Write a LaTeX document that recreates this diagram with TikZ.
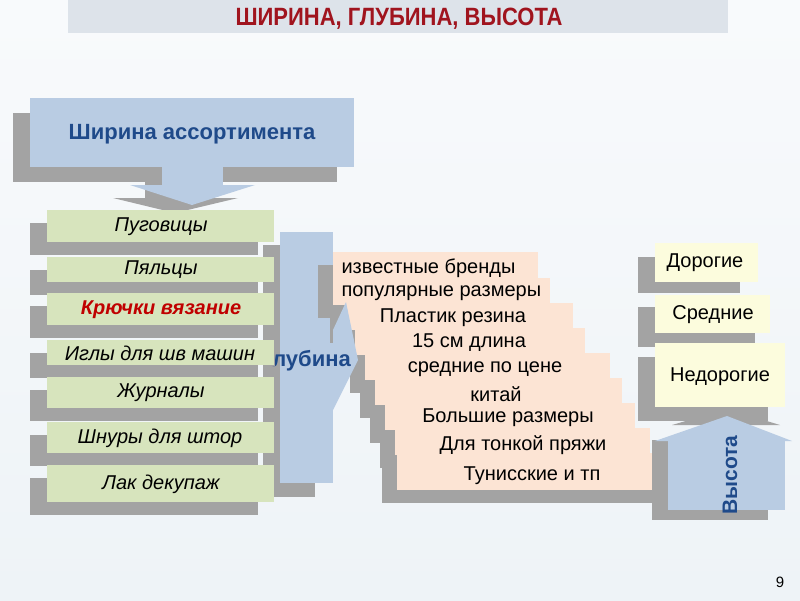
\documentclass[tikz,border=0pt]{standalone}
\usepackage{fontspec}
\setmainfont{Liberation Sans}
\newfontfamily\narrowfont[FakeStretch=0.88]{Liberation Sans}
\definecolor{bgc}{HTML}{EEF3F7}
\definecolor{bandc}{HTML}{DDE3EA}
\definecolor{titlered}{HTML}{A0141E}
\definecolor{boxblue}{HTML}{B9CCE3}
\definecolor{shadowgray}{HTML}{A3A3A3}
\definecolor{greenc}{HTML}{D7E4BD}
\definecolor{peachc}{HTML}{FCE4D4}
\definecolor{yellowc}{HTML}{FCFCDD}
\definecolor{darkblue}{HTML}{1F4A8A}
\definecolor{redtxt}{HTML}{C00000}
\tikzset{
  greentext/.style={font=\fontsize{20}{23}\selectfont\itshape, text=black},
  peachtext/.style={font=\fontsize{20}{23}\selectfont, text=black},
  yellowtext/.style={font=\fontsize{20}{23}\selectfont, text=black},
  bigblue/.style={font=\fontsize{22}{25}\selectfont\bfseries, text=darkblue}
}
\begin{document}
\begin{tikzpicture}[x=1pt,y=-1pt]
\useasboundingbox (0,0) rectangle (800,600);
% background
\shade[top color=white!60!bgc, bottom color=bgc] (0,0) rectangle (800,600);
% title band
\fill[bandc] (68,0) rectangle (728,33);
\node[font=\narrowfont\fontsize{25}{27}\selectfont\bfseries, text=titlered] (title) at (399,19) {ШИРИНА, ГЛУБИНА, ВЫСОТА};

% ---- Ширина ассортимента
\fill[shadowgray] (13,113) rectangle (337,182);
\fill[shadowgray] (145,180) rectangle (206,200);
\fill[shadowgray] (113,198) -- (238,198) -- (175,213) -- cycle;
\fill[boxblue] (30,98) rectangle (354,167);
\fill[boxblue] (162,167) rectangle (223,187);
\fill[boxblue] (130,185) -- (255,185) -- (192,205) -- cycle;
\node[bigblue] (shirina) at (192,134) {Ширина ассортимента};

% ---- Глубина
\fill[shadowgray] (263,245) rectangle (315,497);
\fill[boxblue] (280,232) rectangle (333,483);

% ---- green list
\foreach \t/\b in {210/242, 257/282, 293/325, 340/365, 377/408, 422/453, 465/502}{
  \fill[shadowgray] (30,\t+13) rectangle (258,\b+13);
}
\foreach \t/\b in {210/242, 257/282, 293/325, 340/365, 377/408, 422/453, 465/502}{
  \fill[greenc] (47,\t) rectangle (274,\b);
}
\node[greentext] (g1) at (161,227) {Пуговицы};
\node[greentext] (g2) at (161,270) {Пяльцы};
\node[greentext, font=\fontsize{20}{23}\selectfont\itshape\bfseries, text=redtxt] (g3) at (161,310) {Крючки вязание};
\node[greentext] (g4) at (160,353) {Иглы для шв машин};
\node[greentext] (g5) at (161,393) {Журналы};
\node[greentext] (g6) at (160,438) {Шнуры для штор};
\node[greentext] (g7) at (161,484) {Лак декупаж};

% ---- peach staircase
\foreach \t/\b/\l/\r in {252/280/333/538, 278/305/333/550, 303/330/345/573, 328/355/355/585, 353/380/365/610, 378/405/375/622, 403/430/385/635, 428/455/395/650, 453/490/397/668}{
  \fill[shadowgray] (\l-15,\t+13) rectangle (\r-15,\b+13);
  \fill[peachc] (\l,\t) rectangle (\r,\b);
}
% blue arrowhead of Глубина
\fill[boxblue] (333,330) -- (346,302) -- (358,360) -- (333,410) -- cycle;
% label Глубина (its first letter hidden behind the green box)
\begin{scope}
  \clip (274.5,325) rectangle (370,385) (240,365.5) rectangle (275,385);
  \node[bigblue, anchor=base east, inner sep=0pt] (glubina) at (351,366) {Глубина};
\end{scope}

\node[peachtext, anchor=west] (p1) at (338,268) {известные бренды};
\node[peachtext, anchor=west] (p2) at (338,293) {популярные размеры};
\node[peachtext] (p3) at (453,318) {Пластик резина};
\node[peachtext] (p4) at (469,343) {15 см длина};
\node[peachtext] (p5) at (485,369) {средние по цене};
\node[peachtext] (p6) at (496,394) {китай};
\node[peachtext] (p7) at (508,418) {Большие размеры};
\node[peachtext] (p8) at (523,445) {Для тонкой пряжи};
\node[peachtext] (p9) at (532,476) {Тунисские и тп};

% ---- right column
\fill[shadowgray] (638,257) rectangle (740,293);
\fill[yellowc] (655,243) rectangle (758,282);
\fill[shadowgray] (638,307) rectangle (755,347);
\fill[yellowc] (655,295) rectangle (770,333);
\fill[shadowgray] (638,357) rectangle (768,421);
\fill[yellowc] (655,343) rectangle (785,407);
\node[yellowtext] (y1) at (705,263) {Дорогие};
\node[yellowtext] (y2) at (713,315) {Средние};
\node[yellowtext] (y3) at (720,377) {Недорогие};

% ---- Высота arrow
\fill[shadowgray] (652,440) rectangle (768,520);
\fill[shadowgray] (672,425) -- (727,409) -- (780,425) -- cycle;
\fill[boxblue] (668,441) rectangle (785,510);
\fill[boxblue] (655,441) -- (727,416) -- (792,441) -- cycle;
\node[bigblue, font=\fontsize{21}{24}\selectfont\bfseries, rotate=90] (vysota) at (730,475) {Высота};

% page number
\node[font=\fontsize{15}{18}\selectfont, text=black] (pagenum) at (780,582) {9};
\end{tikzpicture}
\end{document}
